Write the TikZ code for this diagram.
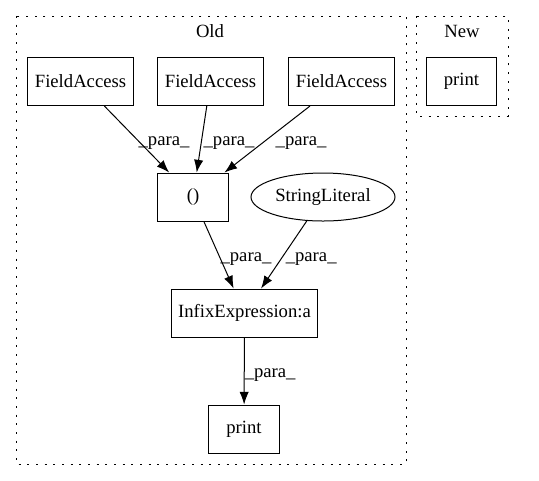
\documentclass[tikz,border=0pt]{standalone}
\usepackage{fontspec}
\setmainfont{Liberation Serif}
\usetikzlibrary{shapes.geometric,positioning,arrows.meta}

\begin{document}
\begin{tikzpicture}[>={Latex[length=9.5pt,width=7pt]},x=.75pt,y=-.75pt,line width=.75pt,
  font=\fontsize{14}{17}\selectfont]
\tikzstyle{box}=[draw,rectangle,inner sep=0pt,minimum height=36pt]
\tikzstyle{oval}=[draw,ellipse,inner sep=0pt,minimum height=36pt,minimum width=108pt]
\tikzstyle{lbl}=[right,inner sep=1pt,yshift=-3pt]
\tikzstyle{cluster}=[draw,dash pattern=on 1.5pt off 5pt]
\useasboundingbox (0,0) rectangle (539,480);

\draw[cluster] (16,16) rectangle (406,464);
\draw[cluster] (416,16) rectangle (508,116);
\draw (210,31) node (old) {Old};
\draw (462,31) node (new) {New};

\draw (80.5,81.5) node[box,minimum width=80pt] (fa1) {FieldAccess};
\draw (210.5,81.5) node[box,minimum width=80pt] (fa2) {FieldAccess};
\draw (341.5,81.5) node[box,minimum width=80pt] (fa3) {FieldAccess};
\draw (461.5,81.5) node[box,minimum width=53pt] (newprint) {print};

\draw (193,197) node[box,minimum width=53pt] (paren) {()};
\draw (323,197) node[oval] (strlit) {StringLiteral};
\draw (244.5,313) node[box,minimum width=109pt] (infix) {InfixExpression:a};
\draw (244,429) node[box,minimum width=53pt] (print) {print};

\draw[->] (fa1) -- node[lbl] (l1) {\_para\_} (paren);
\draw[->] (fa2) -- node[lbl] (l2) {\_para\_} (paren);
\draw[->] (fa3) -- node[lbl,xshift=5pt] (l3) {\_para\_} (paren);
\draw[->] (paren) -- node[lbl] (l4) {\_para\_} (infix);
\draw[->] (strlit) -- node[lbl] (l5) {\_para\_} (infix);
\draw[->] (infix) -- node[lbl,inner sep=0pt] (l6) {\_para\_} (print);

\end{tikzpicture}
\end{document}
